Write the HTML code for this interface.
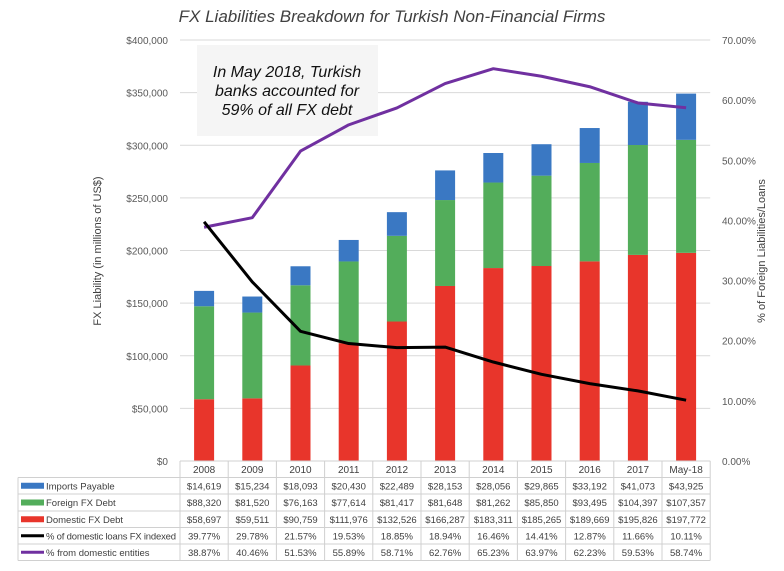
<!DOCTYPE html>
<html><head><meta charset="utf-8"><style>
body{margin:0;background:#fff;}
svg text{font-family:"Liberation Sans",sans-serif;}
</style></head><body>
<svg width="784" height="566" xmlns="http://www.w3.org/2000/svg">
<g id="g"></g>
</svg>
<script>
const categories=["2008","2009","2010","2011","2012","2013","2014","2015","2016","2017","May-18"];
const imports=[14619,15234,18093,20430,22489,28153,28056,29865,33192,41073,43925];
const foreign=[88320,81520,76163,77614,81417,81648,81262,85850,93495,104397,107357];
const domestic=[58697,59511,90759,111976,132526,166287,183311,185265,189669,195826,197772];
const fxIndexed=[39.77,29.78,21.57,19.53,18.85,18.94,16.46,14.41,12.87,11.66,10.11];
const fromDomestic=[38.87,40.46,51.53,55.89,58.71,62.76,65.23,63.97,62.23,59.53,58.74];
const leftTicks=[0,50000,100000,150000,200000,250000,300000,350000,400000];
const rightTicks=[0,10,20,30,40,50,60,70];

const NS="http://www.w3.org/2000/svg";
const g=document.getElementById('g');
const X0=180,CW=48.2,Y0=461,YT=40;
const xc=i=>X0+CW*i+CW/2;
const yL=v=>Y0-(v/400000)*(Y0-YT);
const yR=v=>Y0-(v/70)*(Y0-YT);
function el(t,a,txt){const e=document.createElementNS(NS,t);for(const k in a)e.setAttribute(k,a[k]);if(txt!==undefined)e.textContent=txt;g.appendChild(e);return e;}
const fmt=v=>"$"+v.toLocaleString("en-US");

leftTicks.forEach(v=>{
 const l=el('line',{x1:X0,x2:X0+CW*11,y1:yL(v),y2:yL(v),stroke:'#d9d9d9','stroke-width':1});
 
 const t=el('text',{x:168,y:yL(v)+4,'text-anchor':'end','font-size':10,fill:'#595959'},fmt(v));
 
});
rightTicks.forEach(v=>{
 const t=el('text',{x:722,y:yR(v)+4,'font-size':10,fill:'#595959'},v.toFixed(2)+"%");
 
});

const ab=el('rect',{x:197,y:45,width:181,height:91,fill:'#f5f5f5'});

["In May 2018, Turkish","banks accounted for","59% of all FX debt"].forEach((s,i)=>{
 const t=el('text',{x:287,y:77+i*19,'text-anchor':'middle','font-size':16,'font-style':'italic',fill:'#111'},s);
 
});

const BW=20;
categories.forEach((c,i)=>{
 let base=0;
 [[domestic,'#e8352b','bar-domestic'],[foreign,'#53ad5b','bar-foreign'],[imports,'#3a78c3','bar-imports']].forEach(([arr,col,nm])=>{
  const r=el('rect',{x:xc(i)-BW/2,y:yL(base+arr[i]),width:BW,height:yL(base)-yL(base+arr[i]),fill:col});
  
  base+=arr[i];
 });
});

function line(arr,col,nm){
 const p=el('polyline',{points:arr.map((v,i)=>xc(i)+","+yR(v)).join(" "),fill:'none',stroke:col,'stroke-width':3,'stroke-linejoin':'round'});
 
}
line(fromDomestic,'#7030a0','line-from-domestic');
line(fxIndexed,'#000','line-fx-indexed');

const tt=el('text',{x:392,y:22,'text-anchor':'middle','font-size':17,'font-style':'italic',fill:'#404040'},"FX Liabilities Breakdown for Turkish Non-Financial Firms");

const ly=el('text',{x:0,y:0,'text-anchor':'middle','font-size':11,fill:'#404040',transform:'translate(101,251) rotate(-90)'},"FX Liability (in millions of US$)");

const ry=el('text',{x:0,y:0,'text-anchor':'middle','font-size':11,fill:'#404040',transform:'translate(765,251) rotate(-90)'},"% of Foreign Liabilities/Loans");


const rows=[0,461,477.5,494,511,527.5,544,560.5];
const TL=18,TR=X0+CW*11;
for(let r=1;r<rows.length;r++){
 const x1=r===1?X0:TL;
 const l=el('line',{x1:x1,x2:TR,y1:rows[r],y2:rows[r],stroke:'#d0d0d0','stroke-width':1});
 
}
const vl=el('line',{x1:TL,x2:TL,y1:rows[2],y2:rows[7],stroke:'#d0d0d0'});

for(let i=0;i<=11;i++){
 const l=el('line',{x1:X0+CW*i,x2:X0+CW*i,y1:rows[1],y2:rows[7],stroke:'#d0d0d0'});
 
}
categories.forEach((c,i)=>{
 const t=el('text',{x:xc(i),y:473,'text-anchor':'middle','font-size':10,fill:'#404040'},c);
 
});
const tbl=[
 ["Imports Payable",'#3a78c3','rect',imports.map(fmt)],
 ["Foreign FX Debt",'#53ad5b','rect',foreign.map(fmt)],
 ["Domestic FX Debt",'#e8352b','rect',domestic.map(fmt)],
 ["% of domestic loans FX indexed",'#000','line',fxIndexed.map(v=>v.toFixed(2)+"%")],
 ["% from domestic entities",'#7030a0','line',fromDomestic.map(v=>v.toFixed(2)+"%")]
];
tbl.forEach((row,r)=>{
 const yc=(rows[r+2]+rows[r+3])/2;
 let k;
 if(row[2]==='rect')k=el('rect',{x:21,y:yc-3,width:23,height:6,fill:row[1]});
 else k=el('line',{x1:21,x2:44,y1:yc,y2:yc,stroke:row[1],'stroke-width':3});
 
 const t=el('text',{x:46,y:yc+3.5,'font-size':9.5,fill:'#404040',textLength:row[0].length>25?130:undefined},row[0]);
 if(row[0].length<=25)t.removeAttribute('textLength');
 
 row[3].forEach((s,i)=>{
  const c=el('text',{x:xc(i),y:yc+3.5,'text-anchor':'middle','font-size':9.5,fill:'#404040'},s);
  
 });
});
</script>
</body></html>
